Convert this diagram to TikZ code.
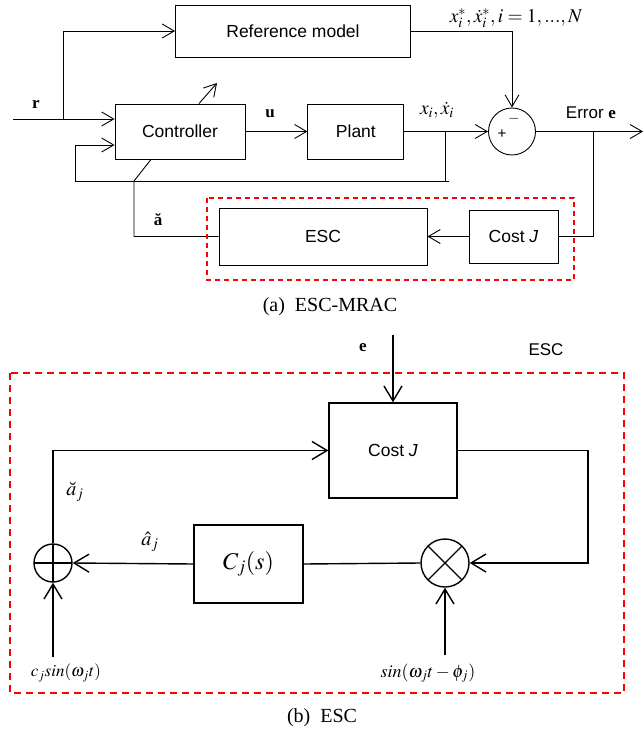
\RequirePackage{fix-cm}
\documentclass[tikz,border=0pt]{standalone}
\usepackage{mathptmx}
\usepackage{fontspec}
\setmainfont{Liberation Serif}
\setsansfont{Liberation Sans}
\usepackage{tikz}
\usetikzlibrary{positioning, arrows.meta, calc}

\begin{document}
\begin{tikzpicture}[x=1pt, y=-1pt,
                block/.style={
                    draw, line width=0.9pt,
                    font=\sffamily\fontsize{17.5}{20}\selectfont,
                    inner sep=0pt, align=center
                },
                bigblock/.style={
                    block, line width=1.3pt
                },
                junction/.style={
                    draw, circle, inner sep=0pt
                },
                link/.style={
                    line width=0.9pt,
                    -{Straight Barb[length=12pt, width=14pt]}
                },
                plainlink/.style={line width=0.9pt},
                biglink/.style={
                    line width=1.4pt,
                    -{Straight Barb[length=15pt, width=18pt]}
                },
                frame/.style={
                    draw=red, dashed, line width=1.1pt,
                    dash pattern=on 5pt off 4pt
                },
                lbl/.style={font=\fontsize{17}{20}\selectfont},
                caption/.style={font=\fontsize{20}{24}\selectfont}
            ]
            \useasboundingbox (0,0) rectangle (644,737);

            % --- (a) ESC-MRAC ---
            \node[block, minimum width=235pt, minimum height=52pt] (refmodel) at (293,31) {Reference model};
            \node[block, minimum width=130pt, minimum height=55pt] (ctrl) at (180,131.5) {Controller};
            \node[block, minimum width=96pt, minimum height=55pt, right=62pt of ctrl] (plant) {Plant};
            \node[junction, line width=0.9pt, minimum size=47pt] (sum) at (512,131.5) {};
            \node[block, minimum width=208pt, minimum height=57pt] (escA) at (323,236.5) {ESC};
            \node[block, minimum width=89pt, minimum height=53pt] (costA) at (513.5,236.5) {Cost \textit{J}};

            \coordinate (rin) at (13,119);
            \coordinate (rsplit) at (63,119);
            \coordinate (fbleft) at (75,181);
            \coordinate (fbright) at (449,181);
            \coordinate (ytap) at (445,131.5);
            \coordinate (atap) at (134,181);
            \coordinate (adapt) at (217,83);
            \coordinate (esplit) at (593,131.5);
            \coordinate (eout) at (643,131.5);

            \draw[link] (rin) -- (rin -| ctrl.west);
            \draw[link] (rsplit) |- (refmodel.west);
            \draw[link] (fbright) -- (fbleft) |- ([yshift=-13.5pt]ctrl.west);
            \draw[plainlink] (ytap) -- (ytap |- fbright);
            \draw[link] (ctrl.east) -- (plant.west);
            \draw[link] (plant.east) -- (sum.west);
            \draw[link] (refmodel.east) -| (sum.north);
            \draw[link] (sum.east) -- (eout);
            \draw[plainlink] (esplit) |- (costA.east);
            \draw[link] (costA.west) -- (escA.east);
            \draw[plainlink] (escA.west) -| (atap) -- ([xshift=-29pt]ctrl.south);
            \draw[link] ([xshift=19pt]ctrl.north) -- (adapt);

            \node[lbl] (rlbl) at (36,104) {\textbf{r}};
            \node[lbl] (ulbl) at (270,114) {\textbf{u}};
            \node[font=\fontsize{19.5}{22}\selectfont] (xlbl) at (437,110) {$x_i, \dot{x}_i$};
            \node[font=\fontsize{19.5}{22}\selectfont] (xreflbl) at (516,18) {$x_i^*, \dot{x}_i^*, i = 1, ..., N$};
            \node[font=\sffamily\fontsize{17}{20}\selectfont] (elbl) at (591,113) {Error \textbf{\rmfamily e}};
            \node[font=\sffamily\fontsize{15}{18}\selectfont] (minus) at (514,119) {$-$};
            \node[font=\sffamily\fontsize{15}{18}\selectfont] (plus) at (502,134) {+};
            \node[lbl] (alblA) at (158,220) {\textbf{ă}};

            \draw[frame] (207,198) rectangle (574,280);
            \node[caption] (capA) at (330,307) {(a)\ \ ESC-MRAC};

            % --- (b) ESC ---
            \node[bigblock, minimum width=128pt, minimum height=95pt] (costB) at (393,450.5) {Cost \textit{J}};
            \node[bigblock, minimum width=109pt, minimum height=78pt, font=\fontsize{24}{28}\selectfont] (cbox) at (248.5,564) {$C_j(s)$};
            \node[junction, line width=1.4pt, minimum size=38pt,
                  path picture={\draw[line width=1.2pt] (path picture bounding box.north) -- (path picture bounding box.south)
                                (path picture bounding box.west) -- (path picture bounding box.east);}] (oplus) at (53,563) {};
            \node[junction, line width=1.4pt, minimum size=48pt,
                  path picture={\draw[line width=1.2pt] (path picture bounding box.north west) -- (path picture bounding box.south east)
                                (path picture bounding box.south west) -- (path picture bounding box.north east);}] (otimes) at (445,563) {};

            \coordinate (ein) at (393,335);
            \coordinate (jturn) at (588,450.5);
            \coordinate (ditherin) at (53,657);
            \coordinate (demodin) at (445,655);

            \draw[biglink] (ein) -- (costB.north);
            \draw[biglink] (oplus.north) |- (costB.west);
            \draw[biglink] (costB.east) -- (jturn) |- (otimes.east);
            \draw[line width=1.4pt] (otimes.west) -- (cbox.east);
            \draw[biglink] (cbox.west) -- (oplus.east);
            \draw[biglink] (ditherin) -- (oplus.south);
            \draw[biglink] (demodin) -- (otimes.south);

            \node[lbl] (elblB) at (363,348) {\textbf{e}};
            \node[font=\sffamily\fontsize{17}{20}\selectfont] (esclbl) at (546,350) {ESC};
            \node[font=\fontsize{20}{24}\selectfont] (ahat) at (150,542) {$\hat{a}_j$};
            \node[font=\fontsize{20}{24}\selectfont] (abreve) at (75,492) {$\breve{a}_j$};
            \node[font=\fontsize{17}{18}\selectfont] (ditherlbl) at (66,673) {$c_j sin(\omega_j t)$};
            \node[font=\fontsize{18}{20}\selectfont] (demodlbl) at (428,673) {$sin(\omega_j t - \phi_j)$};

            \draw[frame, line width=1.5pt, dash pattern=on 7pt off 5pt] (10,373) rectangle (624,693);
            \node[caption] (capB) at (322,718) {(b)\ \ ESC};

        \end{tikzpicture}
\end{document}
